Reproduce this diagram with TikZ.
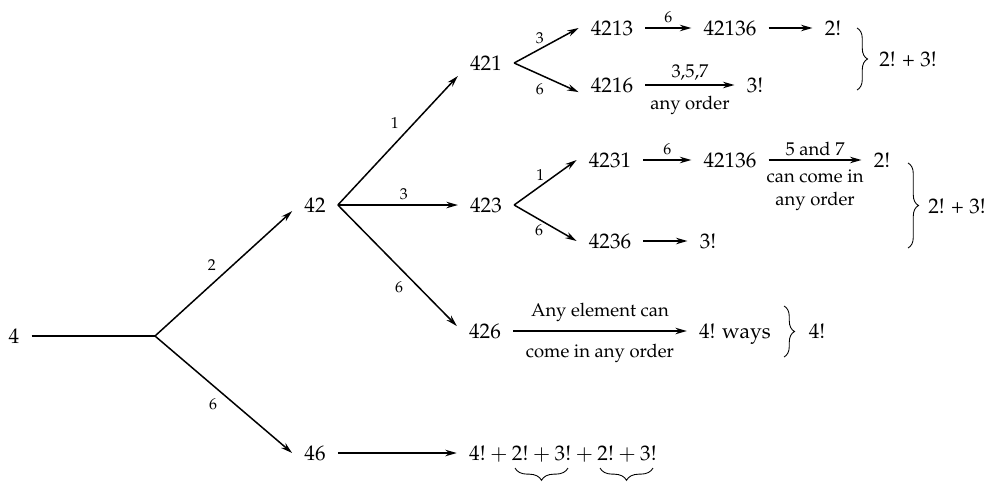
\documentclass[tikz,border=0pt]{standalone}
\usepackage[T1]{fontenc}
\usepackage{mathpazo}
\usepackage{amsmath}
\usepackage{tikz}
\usetikzlibrary{arrows.meta,positioning,calc,decorations.pathreplacing}

\tikzset{
  num/.style={font=\fontsize{12}{14}\selectfont, inner xsep=6.8pt, inner ysep=3pt,
    text height=8.4pt, text depth=0pt},
  lbl/.style={font=\fontsize{9}{10}\selectfont, inner sep=2.5pt},
  note/.style={font=\fontsize{10.5}{13}\selectfont, inner sep=2pt, align=center},
  arr/.style={line width=0.85pt, -{Stealth[length=2.3mm,width=1.3mm]}},
  brc/.style={decorate, decoration={brace,amplitude=6pt}, line width=0.5pt},
  ubrc/.style={decorate, decoration={brace,amplitude=7pt}, line width=0.5pt},
}

\begin{document}
\begin{tikzpicture}[x=0.2mm,y=-0.2mm]
  \useasboundingbox (0,0) rectangle (993,481);

  % Knoten des Baums
  \node[num] (n4)   at (14,336)  {4};
  \node[num] (n42)  at (315,205) {42};
  \node[num] (n46)  at (315,453) {46};
  \node[num] (n421) at (486,63)  {421};
  \node[num] (n423) at (486,205) {423};
  \node[num] (n426) at (485,331) {426};

  \node[num] (n4213)   at (612,28)  {4213};
  \node[num] (n42136a) at (730,28)  {42136};
  \node[num] (n2a)     at (833,28)  {2!};
  \node[num] (n4216)   at (612,85)  {4216};
  \node[num] (n3a)     at (755,85)  {3!};

  \node[num] (n4231)   at (610,160) {4231};
  \node[num] (n42136b) at (730,160) {42136};
  \node[num] (n2b)     at (882,160) {2!};
  \node[num] (n4236)   at (610,241) {4236};
  \node[num] (n3b)     at (708,241) {3!};

  \node[num] (nways) at (735,331) {4! ways};
  \node[num] (nsum)  at (563,453) {$4! + 2! + 3! + 2! + 3!$};

  % erste Verzweigung
  \coordinate (b4) at (155,336);
  \draw[line width=0.6pt] (n4) -- (b4);
  \draw[arr] (b4) -- node[lbl,above left,pos=0.48] {2} (n42.195);
  \draw[arr] (b4) -- node[lbl,below left,pos=0.49] {6} (n46.west);

  % von 42 aus
  \draw[arr] (n42.east) -- node[lbl,above left,pos=0.55] {1} (n421.south west);
  \draw[arr] (n42.east) -- node[lbl,above,pos=0.55] {3} (n423.west);
  \draw[arr] (n42.east) -- node[lbl,below left,pos=0.59] {6} (n426.170);

  % von 421 aus
  \draw[arr] (n421.east) -- node[lbl,above,pos=0.4] {3} (n4213.west);
  \draw[arr] (n421.east) -- node[lbl,below left,pos=0.54] {6} (n4216.192);
  \draw[arr] (n4213) -- node[lbl,above] {6} (n42136a);
  \draw[arr] (n42136a) -- (n2a);
  \draw[arr] (n4216) -- node[note,above=0pt] {3,5,7} node[note,below=4pt] {any order} (n3a);

  % von 423 aus
  \draw[arr] (n423.east) -- node[lbl,above,pos=0.42] {1} (n4231.west);
  \draw[arr] (n423.east) -- node[lbl,below,pos=0.4] {6} (n4236.west);
  \draw[arr] (n4231) -- node[lbl,above] {6} (n42136b);
  \draw[arr] (n42136b) -- node[note,above=0pt] {5 and 7}
    node[note,below=3pt] {can come in\\any order} (n2b);
  \draw[arr] (n4236) -- (n3b);

  % von 426 und 46 aus
  \draw[arr] (n426) -- node[note,above=3pt] {Any element can}
    node[note,below=5pt] {come in any order} (nways);
  \draw[arr] (n46) -- (nsum);

  % Klammern unter der Summe
  \draw[ubrc] (568,468) -- (515,468);
  \draw[ubrc] (653,468) -- (600,468);

  % Klammern rechts
  \draw[brc] (857,28) -- (857,90);
  \node[num,inner xsep=0pt] (s1) at (908,59) {2! + 3!};
  \draw[brc] (908,163) -- (908,248);
  \node[num,inner xsep=0pt] (s2) at (957,206) {2! + 3!};
  \draw[brc] (784,306) -- (784,357);
  \node[num,inner xsep=0pt] (s3) at (817,331) {4!};
\end{tikzpicture}
\end{document}
